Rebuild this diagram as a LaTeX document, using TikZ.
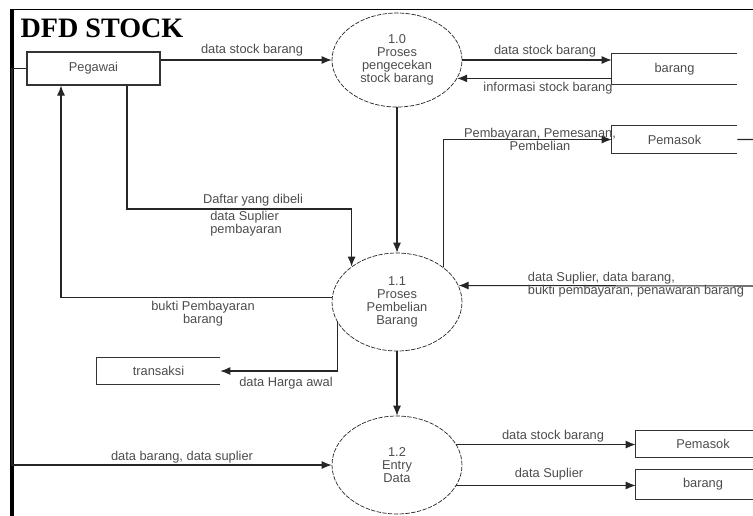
\documentclass[tikz,border=0pt]{standalone}
\usepackage{fontspec}
\setmainfont{Liberation Sans}
\newfontfamily\titlefont{Liberation Serif}
\usepackage{tikz}
\usetikzlibrary{arrows.meta,shapes.geometric}

\begin{document}
\begin{tikzpicture}[x=0.02cm, y=-0.02cm,
    proc/.style={draw=black!85, dash pattern=on 2.5pt off 0.8pt, ellipse, minimum width=2.6cm, minimum height=1.96cm, inner sep=0pt, align=center, font=\fontsize{7.3}{7.5}\selectfont, text=black!70},
    entity/.style={draw=black!80, semithick, rectangle, inner sep=0pt, font=\fontsize{7.3}{7.5}\selectfont, text=black!70},
    store/.style={rectangle, inner sep=0pt, font=\fontsize{7.3}{7.5}\selectfont, text=black!70},
    storeline/.style={draw=black!80, semithick},
    flow/.style={draw=black!85, semithick, -{Latex[length=2mm, width=1.6mm]}},
    lbl/.style={inner sep=0pt, font=\fontsize{7.3}{7.5}\selectfont, text=black!70}]
    \useasboundingbox (0,0) rectangle (753,515);

    % Frame
    \draw[line width=1.1pt] (11,9.5) -- (770,9.5);
    \draw[line width=2.3pt] (12,9) -- (12,530);
    \node[font=\titlefont\fontsize{16}{18}\selectfont\bfseries, inner sep=0pt] (title) at (102,28) {DFD STOCK};

    % Processes
    \node[proc, minimum height=1.88cm] (p10) at (397,60) {1.0\\Proses\\pengecekan\\stock barang};
    \node[proc] (p11) at (397,302) {1.1\\Proses\\Pembelian\\Barang};
    \node[proc] (p12) at (397,465) {1.2\\Entry\\Data};

    % External entity
    \node[entity, minimum width=2.66cm, minimum height=0.66cm] (peg) at (93.5,68.5) {Pegawai};

    % Data stores
    \node[store, minimum width=2.5cm, minimum height=0.6cm] (brg1) at (674.5,69) {barang};
    \node[store, minimum width=2.5cm, minimum height=0.54cm] (psk1) at (674.5,139.5) {Pemasok};
    \node[store, minimum width=2.46cm, minimum height=0.52cm] (trx) at (158.5,371) {transaksi};
    \node[store, minimum width=2.68cm, minimum height=0.52cm] (psk2) at (703,444) {Pemasok};
    \node[store, minimum width=2.68cm, minimum height=0.58cm] (brg2) at (703,484.5) {barang};
    \foreach \s in {brg1,psk1,trx,psk2,brg2}
        \draw[storeline] (\s.north east) -- (\s.north west) -- (\s.south west) -- (\s.south east);

    % Flows around 1.0
    \draw[flow] (peg.east |- p10.west) -- (p10.west);
    \node[lbl] (l1) at (252,50) {data stock barang};
    \draw[flow] (p10.east) -- (p10.east -| brg1.west);
    \node[lbl] (l2) at (545,51) {data stock barang};
    \draw[flow] (brg1.west |- p10.-17) -- (p10.-17);
    \node[lbl] (l3) at (548,88) {informasi stock barang};
    \draw[flow] (p10.south) -- (p11.north);

    % Flows around 1.1
    \coordinate (dbend) at (127,209);
    \draw[flow] (peg.south -| dbend) |- (dbend -| p11.142) -- (p11.142);
    \node[lbl] (l4) at (253,200) {Daftar yang dibeli};
    \node[lbl, align=left] (l5) at (246,224) {data Suplier\\pembayaran};

    \coordinate (ret) at (61,298);
    \draw[flow] (p11.176) -| (peg.south -| ret);
    \node[lbl, align=center] (l6) at (203,314) {bukti Pembayaran\\barang};

    \draw[flow] (p11.37) |- (psk1.west);
    \node[lbl, align=center] (l7) at (540,139) {Pembayaran, Pemesanan,\\Pembelian};

    \coordinate (redge) at (757,286);
    \draw[flow] (psk1.east) -| (redge) -- (p11.15);
    \node[lbl, align=left] (l8) at (636,285) {data Suplier, data barang,\\bukti pembayaran, penawaran barang};

    \draw[flow] (p11.199) |- (trx.east);
    \node[lbl] (l9) at (286,383) {data Harga awal};
    \draw[flow] (p11.south) -- (p12.north);

    % Flows around 1.2
    \coordinate (lft) at (12,0);
    \draw[flow] (peg.west) -| (lft |- p12.west) -- (p12.west);
    \node[lbl] (l10) at (182,457) {data barang, data suplier};
    \draw[flow] (p12.19) -- (p12.19 -| psk2.west);
    \node[lbl] (l11) at (553,436) {data stock barang};
    \draw[flow] (p12.-19) -- (p12.-19 -| brg2.west);
    \node[lbl] (l12) at (549,474) {data Suplier};
\end{tikzpicture}
\end{document}
